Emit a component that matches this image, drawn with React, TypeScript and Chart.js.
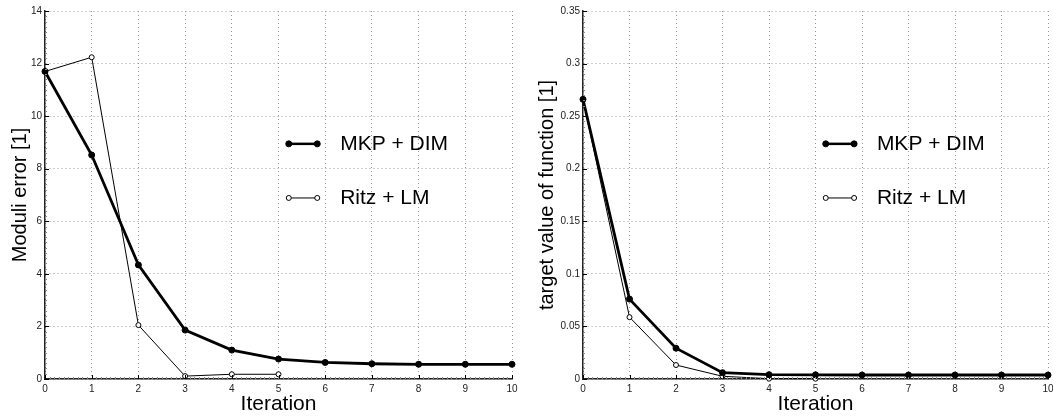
import { useEffect, useRef } from "react";
import { Chart, registerables } from "chart.js";

Chart.register(...registerables);

// ---- data ----
const iterations = [0, 1, 2, 3, 4, 5, 6, 7, 8, 9, 10];
const iterationsRitz = [0, 1, 2, 3, 4, 5];
const seriesLabels = ["MKP + DIM", "Ritz + LM"];

const moduliMkp = [11.7, 8.52, 4.34, 1.86, 1.1, 0.76, 0.63, 0.58, 0.56, 0.56, 0.56];
const moduliRitz = [11.7, 12.24, 2.05, 0.11, 0.18, 0.18];

const targetMkp = [0.266, 0.076, 0.0293, 0.006, 0.0041, 0.004, 0.0038, 0.0038, 0.0038, 0.0038, 0.0038];
const targetRitz = [0.266, 0.0588, 0.0133, 0.0026, 0.0003, 0.0003];

const xTickValues = [0, 1, 2, 3, 4, 5, 6, 7, 8, 9, 10];
const moduliTicks = [0, 2, 4, 6, 8, 10, 12, 14];
const targetTicks = [0, 0.05, 0.1, 0.15, 0.2, 0.25, 0.3, 0.35];

const FONT = '"Liberation Sans", Arial, Helvetica, sans-serif';

const pairs = (xs: number[], ys: number[]) => ys.map((y, i) => ({ x: xs[i], y }));

const axisTicksPlugin = {
  id: "axisTicks",
  afterDraw(chart: any) {
    const { ctx, chartArea: a } = chart;
    const xs = chart.scales.x;
    const ys = chart.scales.y;
    ctx.save();
    ctx.strokeStyle = "#888";
    ctx.lineWidth = 1;
    const xStep = (xTickValues[1] - xTickValues[0]) / 10;
    ctx.beginPath();
    for (let v = xs.min; v <= xs.max + 1e-9; v += xStep) {
      const px = Math.round(xs.getPixelForValue(v)) + 0.5;
      ctx.moveTo(px, a.bottom);
      ctx.lineTo(px, a.bottom - 2);
    }
    const yVals: number[] = chart.options.plugins.axisTicks.yTicks;
    const yStep = (yVals[1] - yVals[0]) / 10;
    for (let v = ys.min; v <= ys.max + 1e-9; v += yStep) {
      const py = Math.round(ys.getPixelForValue(v)) + 0.5;
      ctx.moveTo(a.left, py);
      ctx.lineTo(a.left + 2, py);
    }
    ctx.stroke();
    ctx.strokeStyle = "#000";
    ctx.beginPath();
    xTickValues.forEach((v) => {
      const px = Math.round(xs.getPixelForValue(v)) + 0.5;
      ctx.moveTo(px, a.bottom);
      ctx.lineTo(px, a.bottom - 4);
    });
    yVals.forEach((v) => {
      const py = Math.round(ys.getPixelForValue(v)) + 0.5;
      ctx.moveTo(a.left, py);
      ctx.lineTo(a.left + 4, py);
    });
    ctx.stroke();
    ctx.restore();
  },
};

const insideLegendPlugin = {
  id: "insideLegend",
  afterDraw(chart: any) {
    const { ctx, chartArea: a } = chart;
    const w = a.right - a.left;
    const h = a.bottom - a.top;
    const rows = [0.361, 0.508];
    chart.data.datasets.forEach((ds: any, i: number) => {
      const y = a.top + rows[i] * h;
      const x1 = a.left + 0.522 * w;
      const x2 = a.left + 0.583 * w;
      const tx = a.left + 0.632 * w;
      ctx.save();
      ctx.strokeStyle = i === 0 ? "#000" : "#555";
      ctx.lineWidth = i === 0 ? 2.5 : 1.5;
      ctx.beginPath();
      ctx.moveTo(x1, y);
      ctx.lineTo(x2, y);
      ctx.stroke();
      [x1, x2].forEach((x) => {
        ctx.beginPath();
        ctx.arc(x, y, ds.pointRadius, 0, Math.PI * 2);
        ctx.fillStyle = ds.pointBackgroundColor;
        ctx.fill();
        ctx.lineWidth = ds.pointBorderWidth;
        ctx.strokeStyle = "#000";
        ctx.stroke();
      });
      ctx.fillStyle = "#000";
      ctx.font = `21px ${FONT}`;
      ctx.textBaseline = "middle";
      ctx.textAlign = "left";
      ctx.fillText(ds.label, tx, y);
      ctx.restore();
    });
  },
};

function makeConfig(
  mkp: number[],
  ritz: number[],
  yTicks: number[],
  yTitle: string,
  yWidth: number,
  rightPad: number,
  fmt: (v: number) => string
): any {
  const gridColor = "#999";
  return {
    type: "line",
    data: {
      datasets: [
        {
          label: seriesLabels[0],
          data: pairs(iterations, mkp),
          borderColor: "#000",
          borderWidth: 2.8,
          pointRadius: 3,
          pointBackgroundColor: "#000",
          pointBorderColor: "#000",
          pointBorderWidth: 1,
          clip: false,
        },
        {
          label: seriesLabels[1],
          data: pairs(iterationsRitz, ritz),
          borderColor: "#000",
          borderWidth: 1,
          pointRadius: 2.5,
          pointBackgroundColor: "#fff",
          pointBorderColor: "#000",
          pointBorderWidth: 1,
          clip: false,
        },
      ],
    },
    options: {
      animation: false,
      responsive: true,
      maintainAspectRatio: false,
      layout: { padding: { left: 0, top: 11, right: rightPad, bottom: 0 } },
      plugins: {
        legend: { display: false },
        tooltip: { enabled: false },
        axisTicks: { yTicks },
      },
      scales: {
        x: {
          type: "linear",
          min: xTickValues[0],
          max: xTickValues[xTickValues.length - 1],
          afterBuildTicks: (s: any) => {
            s.ticks = xTickValues.map((v) => ({ value: v }));
          },
          afterFit: (s: any) => {
            s.height = 38;
            s.paddingLeft = 0;
            s.paddingRight = 0;
          },
          grid: { color: gridColor, lineWidth: 1, drawTicks: false },
          border: { display: true, color: "#222", width: 1.5, dash: [1, 3] },
          ticks: {
            padding: 4,
            color: "#222",
            font: { family: FONT, size: 10 },
            maxRotation: 0,
            autoSkip: false,
          },
          title: {
            display: true,
            text: "Iteration",
            color: "#000",
            font: { family: FONT, size: 21 },
            padding: { top: 0, bottom: 0 },
          },
        },
        y: {
          type: "linear",
          min: yTicks[0],
          max: yTicks[yTicks.length - 1],
          afterBuildTicks: (s: any) => {
            s.ticks = yTicks.map((v) => ({ value: v }));
          },
          afterFit: (s: any) => {
            s.width = yWidth;
            s.paddingTop = 0;
            s.paddingBottom = 0;
          },
          grid: { color: gridColor, lineWidth: 1, drawTicks: false },
          border: { display: true, color: "#222", width: 1.5, dash: [1, 3] },
          ticks: {
            padding: 3,
            color: "#222",
            font: { family: FONT, size: 10 },
            autoSkip: false,
            callback: (v: number) => fmt(v),
          },
          title: {
            display: true,
            text: yTitle,
            color: "#000",
            font: { family: FONT, size: 20 },
            padding: { top: 8, bottom: 0 },
          },
        },
      },
    },
    plugins: [axisTicksPlugin, insideLegendPlugin],
  };
}

function ChartBox(props: { config: () => any; left: number; width: number }) {
  const ref = useRef<HTMLCanvasElement | null>(null);
  useEffect(() => {
    if (!ref.current) return;
    const chart = new Chart(ref.current, props.config());
    return () => chart.destroy();
  }, []);
  return (
    <div
      style={{
        position: "absolute",
        left: props.left,
        top: 0,
        width: props.width,
        height: 417,
      }}
    >
      <canvas ref={ref} />
    </div>
  );
}

export default function App() {
  return (
    <div
      style={{
        position: "fixed",
        left: 0,
        top: 0,
        width: 1053,
        height: 417,
        background: "#fff",
        overflow: "hidden",
      }}
    >
      <ChartBox
        left={0}
        width={527}
        config={() =>
          makeConfig(moduliMkp, moduliRitz, moduliTicks, "Moduli error [1]", 45, 15, (v) => String(v))
        }
      />
      <ChartBox
        left={527}
        width={526}
        config={() =>
          makeConfig(
            targetMkp,
            targetRitz,
            targetTicks,
            "target value of function [1]",
            56,
            3,
            (v) => String(Math.round(v * 100) / 100)
          )
        }
      />
    </div>
  );
}
